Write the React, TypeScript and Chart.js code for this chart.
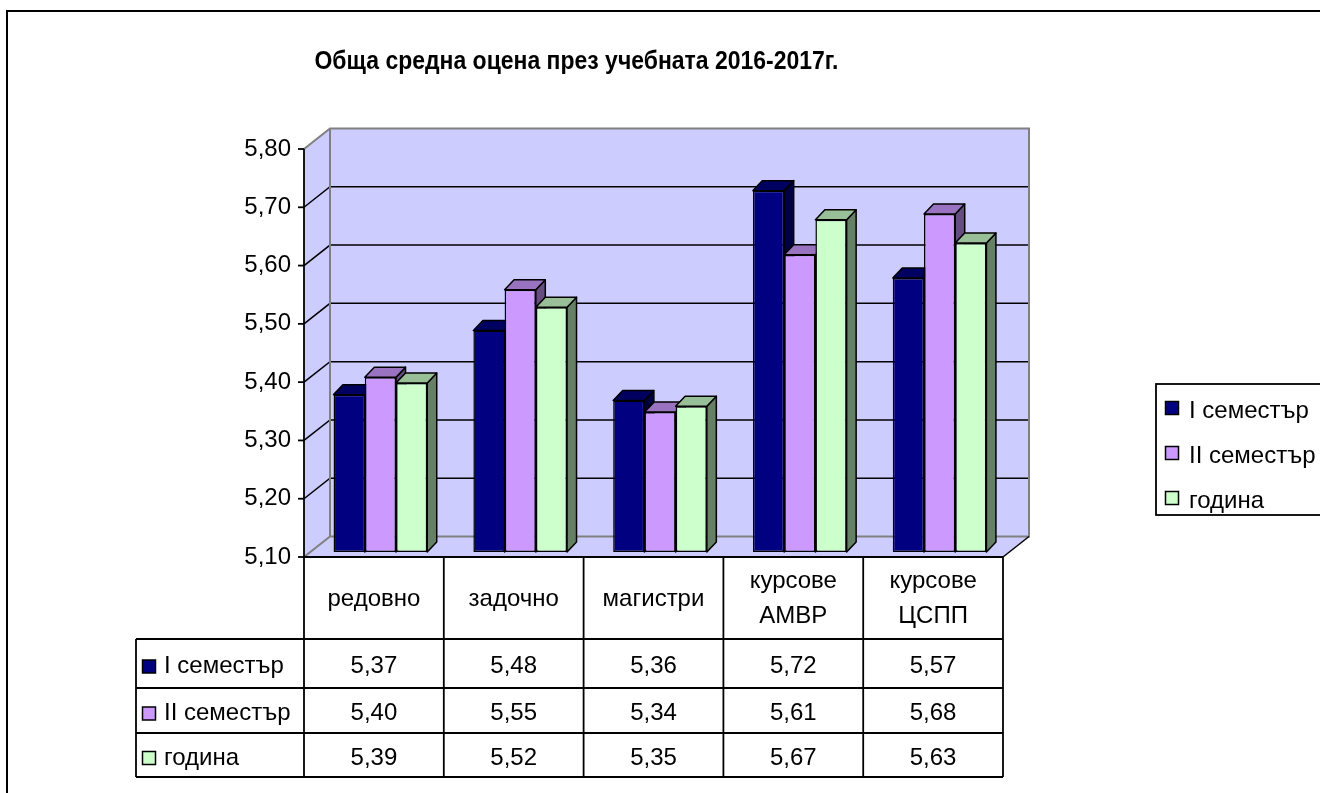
import React, { useEffect, useRef } from "react";
import { Chart, registerables } from "chart.js";

Chart.register(...registerables);

// ---------- data ----------
const chartTitle = "Обща средна оцена през учебната 2016-2017г.";
const categories: string[][] = [
  ["редовно"],
  ["задочно"],
  ["магистри"],
  ["курсове", "АМВР"],
  ["курсове", "ЦСПП"],
];
const seriesNames = ["I семестър", "II семестър", "година"];
const semester1 = [5.37, 5.48, 5.36, 5.72, 5.57];
const semester2 = [5.4, 5.55, 5.34, 5.61, 5.68];
const yearValues = [5.39, 5.52, 5.35, 5.67, 5.63];
const yTickValues = [5.1, 5.2, 5.3, 5.4, 5.5, 5.6, 5.7, 5.8];
const yTickLabels = ["5,10", "5,20", "5,30", "5,40", "5,50", "5,60", "5,70", "5,80"];
const seriesColors = ["#000080", "#CC99FF", "#CCFFCC"];

// ---------- styling / layout ----------
const FONT = "'Liberation Sans', Arial, Helvetica, sans-serif";
const WALL = "#CCCCFF";
const EDGE_GRAY = "#808080";
const DEPTH = { dx: 26, dy: -20.5 };
const BAR_SHIFT = { dx: 6.5, dy: -5 };
const BAR_DEPTH = { dx: 9.5, dy: -10 };
const HEADER_H = 82;
const ROW_H = [49, 45, 44];
const TABLE_LEFT = 136;
const TITLE_WIDTH = 524;

const fmt = (v: number) => v.toFixed(2).replace(".", ",");

function shade(hex: string, f: number) {
  const n = parseInt(hex.slice(1), 16);
  const r = Math.round(((n >> 16) & 255) * f);
  const g = Math.round(((n >> 8) & 255) * f);
  const b = Math.round((n & 255) * f);
  return `rgb(${r},${g},${b})`;
}

function poly(ctx: CanvasRenderingContext2D, pts: number[][], fill?: string, stroke?: string, lw = 1.5) {
  ctx.beginPath();
  ctx.moveTo(pts[0][0], pts[0][1]);
  for (let i = 1; i < pts.length; i++) ctx.lineTo(pts[i][0], pts[i][1]);
  ctx.closePath();
  if (fill) {
    ctx.fillStyle = fill;
    ctx.fill();
  }
  if (stroke) {
    ctx.strokeStyle = stroke;
    ctx.lineWidth = lw;
    ctx.lineJoin = "round";
    ctx.stroke();
  }
}

function line(ctx: CanvasRenderingContext2D, pts: number[][], color: string, lw: number) {
  ctx.beginPath();
  ctx.moveTo(pts[0][0], pts[0][1]);
  for (let i = 1; i < pts.length; i++) ctx.lineTo(pts[i][0], pts[i][1]);
  ctx.strokeStyle = color;
  ctx.lineWidth = lw;
  ctx.stroke();
}

const excel3dPlugin = {
  id: "excel3d",
  beforeDraw(chart: any) {
    const ctx: CanvasRenderingContext2D = chart.ctx;
    const w = chart.width;
    const h = chart.height;
    ctx.save();
    ctx.fillStyle = "#fff";
    ctx.fillRect(0, 0, w, h);
    line(ctx, [[7, h + 5], [7, 11], [w + 5, 11]], "#000", 2);
    ctx.restore();
  },
  beforeDatasetsDraw(chart: any) {
    const ctx: CanvasRenderingContext2D = chart.ctx;
    const a = chart.chartArea;
    const y = chart.scales.y;
    const L = a.left, R = a.right, T = a.top, B = a.bottom;
    const { dx, dy } = DEPTH;
    ctx.save();
    // walls
    poly(ctx, [[L, T], [L + dx, T + dy], [L + dx, B + dy], [L, B]], WALL);
    poly(ctx, [[L, B], [L + dx, B + dy], [R + dx, B + dy], [R, B]], WALL);
    ctx.fillStyle = WALL;
    ctx.fillRect(L + dx, T + dy, R - L, B - T);
    // gridlines
    yTickValues.forEach((v, i) => {
      if (i === 0 || i === yTickValues.length - 1) return;
      const yy = y.getPixelForValue(v);
      line(ctx, [[L, yy], [L + dx, yy + dy], [R + dx, yy + dy]], "#000", 1.5);
    });
    // gray edges
    line(ctx, [[L, T], [L + dx, T + dy], [R + dx, T + dy], [R + dx, B + dy], [L + dx, B + dy], [L, B]], EDGE_GRAY, 2);
    line(ctx, [[L + dx, T + dy], [L + dx, B + dy]], EDGE_GRAY, 2);
    line(ctx, [[R, B], [R + dx, B + dy]], "#000", 1.5);
    ctx.restore();

    // bars: side and top faces (front faces drawn by Chart.js)
    ctx.save();
    ctx.translate(BAR_SHIFT.dx, BAR_SHIFT.dy);
    const metas = chart.data.datasets.map((_: any, i: number) => chart.getDatasetMeta(i));
    const n = chart.data.labels.length;
    const bdx = BAR_DEPTH.dx, bdy = BAR_DEPTH.dy;
    for (let c = 0; c < n; c++) {
      metas.forEach((meta: any, d: number) => {
        const el = meta.data[c];
        const p = el.getProps(["x", "y", "base", "width"], true);
        const l = p.x - p.width / 2;
        const r = p.x + p.width / 2;
        const top = p.y;
        const base = p.base;
        const col = seriesColors[d];
        poly(ctx, [[r, top], [r + bdx, top + bdy], [r + bdx, base + bdy], [r, base]], shade(col, 0.5), "#000", 1.5);
        poly(ctx, [[l, top], [l + bdx, top + bdy], [r + bdx, top + bdy], [r, top]], shade(col, 0.75), "#000", 1.5);
      });
    }
  },
  afterDatasetsDraw(chart: any) {
    const ctx: CanvasRenderingContext2D = chart.ctx;
    ctx.restore(); // from bar translation
    const a = chart.chartArea;
    const x = chart.scales.x;
    const y = chart.scales.y;
    const L = a.left, R = a.right, B = a.bottom;
    const n = categories.length;
    const cw = (R - L) / n;
    ctx.save();

    // front axis and ticks
    const rowEdges = [B + HEADER_H];
    ROW_H.forEach((h) => rowEdges.push(rowEdges[rowEdges.length - 1] + h));
    const tableBottom = rowEdges[rowEdges.length - 1];
    line(ctx, [[L, y.getPixelForValue(yTickValues[yTickValues.length - 1])], [L, tableBottom]], "#000", 1.8);
    yTickValues.forEach((v) => {
      const yy = y.getPixelForValue(v);
      line(ctx, [[L - 6, yy], [L, yy]], "#000", 1.8);
    });

    // table grid
    line(ctx, [[L, B], [R, B]], "#000", 1.8);
    rowEdges.forEach((ry) => line(ctx, [[TABLE_LEFT, ry], [R, ry]], "#000", 1.8));
    line(ctx, [[TABLE_LEFT, rowEdges[0]], [TABLE_LEFT, tableBottom]], "#000", 1.8);
    for (let c = 1; c <= n; c++) {
      const xx = x.getPixelForValue(c - 1) + cw / 2;
      line(ctx, [[xx, B], [xx, tableBottom]], "#000", 1.8);
    }

    ctx.fillStyle = "#000";
    ctx.font = `24px ${FONT}`;
    ctx.textBaseline = "middle";
    ctx.textAlign = "center";
    // header labels
    categories.forEach((lines, c) => {
      const cx = x.getPixelForValue(c);
      const cy = B + HEADER_H / 2;
      const lh = 35;
      lines.forEach((t, k) => {
        ctx.fillText(t, cx, cy + (k - (lines.length - 1) / 2) * lh + 1);
      });
    });
    // values rows
    chart.data.datasets.forEach((ds: any, d: number) => {
      const cy = (rowEdges[d] + rowEdges[d + 1]) / 2 + 3;
      ctx.textAlign = "center";
      ds.data.forEach((v: number, c: number) => {
        ctx.fillStyle = "#000";
        ctx.fillText(fmt(v), x.getPixelForValue(c), cy);
      });
      // legend key
      ctx.fillStyle = seriesColors[d];
      ctx.fillRect(142.5, cy - 6.5, 13, 13);
      ctx.strokeStyle = "#000";
      ctx.lineWidth = 1.5;
      ctx.strokeRect(142.5, cy - 6.5, 13, 13);
      ctx.fillStyle = "#000";
      ctx.textAlign = "left";
      ctx.fillText(seriesNames[d], 164, cy);
    });

    // title
    ctx.save();
    ctx.font = `bold 24px ${FONT}`;
    ctx.textAlign = "center";
    ctx.textBaseline = "alphabetic";
    const tw = ctx.measureText(chartTitle).width;
    const sx = Math.min(1, TITLE_WIDTH / tw);
    ctx.translate(576.5, 68.5);
    ctx.scale(sx, 1.08);
    ctx.fillStyle = "#000";
    ctx.fillText(chartTitle, 0, 0);
    ctx.restore();

    // legend
    const lgX = 1156, lgY = 384, lgW = 170, lgH = 131;
    ctx.fillStyle = "#fff";
    ctx.fillRect(lgX, lgY, lgW, lgH);
    ctx.strokeStyle = "#000";
    ctx.lineWidth = 1.8;
    ctx.strokeRect(lgX, lgY, lgW, lgH);
    ctx.font = `24px ${FONT}`;
    ctx.textBaseline = "middle";
    ctx.textAlign = "left";
    ctx.lineWidth = 1.5;
    seriesNames.forEach((name, d) => {
      const cy = 408 + d * 45;
      ctx.fillStyle = seriesColors[d];
      ctx.fillRect(1165.5, cy - 6.5, 13, 13);
      ctx.strokeRect(1165.5, cy - 6.5, 13, 13);
      ctx.fillStyle = "#000";
      ctx.fillText(name, 1189, cy + 3);
    });
    ctx.restore();
  },
};

export default function App() {
  const canvasRef = useRef<HTMLCanvasElement | null>(null);

  useEffect(() => {
    if (!canvasRef.current) return;
    const chart = new Chart(canvasRef.current, {
      type: "bar",
      data: {
        labels: categories.map((c) => c.join(" ")),
        datasets: [
          { label: seriesNames[0], data: semester1, backgroundColor: seriesColors[0] },
          { label: seriesNames[1], data: semester2, backgroundColor: seriesColors[1] },
          { label: seriesNames[2], data: yearValues, backgroundColor: seriesColors[2] },
        ].map((ds) => ({
          ...ds,
          base: yTickValues[0],
          borderColor: "#000",
          borderWidth: 1.5,
          borderSkipped: false,
          barPercentage: 1,
          categoryPercentage: 0.67,
          clip: false as any,
        })),
      },
      options: {
        animation: false,
        responsive: true,
        maintainAspectRatio: false,
        layout: { padding: { left: 0, top: 149, right: 317, bottom: 236 } },
        plugins: {
          legend: { display: false },
          title: { display: false },
          tooltip: { enabled: false },
        },
        scales: {
          x: { display: false, grid: { display: false } },
          y: {
            min: 5.1,
            max: 5.8,
            grid: { display: false, drawTicks: false },
            border: { display: false },
            afterFit: (s: any) => {
              s.width = 304;
            },
            afterBuildTicks: (s: any) => {
              s.ticks = yTickValues.map((v) => ({ value: v }));
            },
            ticks: {
              padding: 13,
              color: "#000",
              font: { family: FONT, size: 24 },
              callback: (_v: any, i: number) => yTickLabels[i],
            },
          },
        },
      },
      plugins: [excel3dPlugin],
    });
    return () => chart.destroy();
  }, []);

  return (
    <div style={{ position: "absolute", left: 0, top: 0, width: 1320, height: 793 }}>
      <canvas ref={canvasRef} />
    </div>
  );
}
